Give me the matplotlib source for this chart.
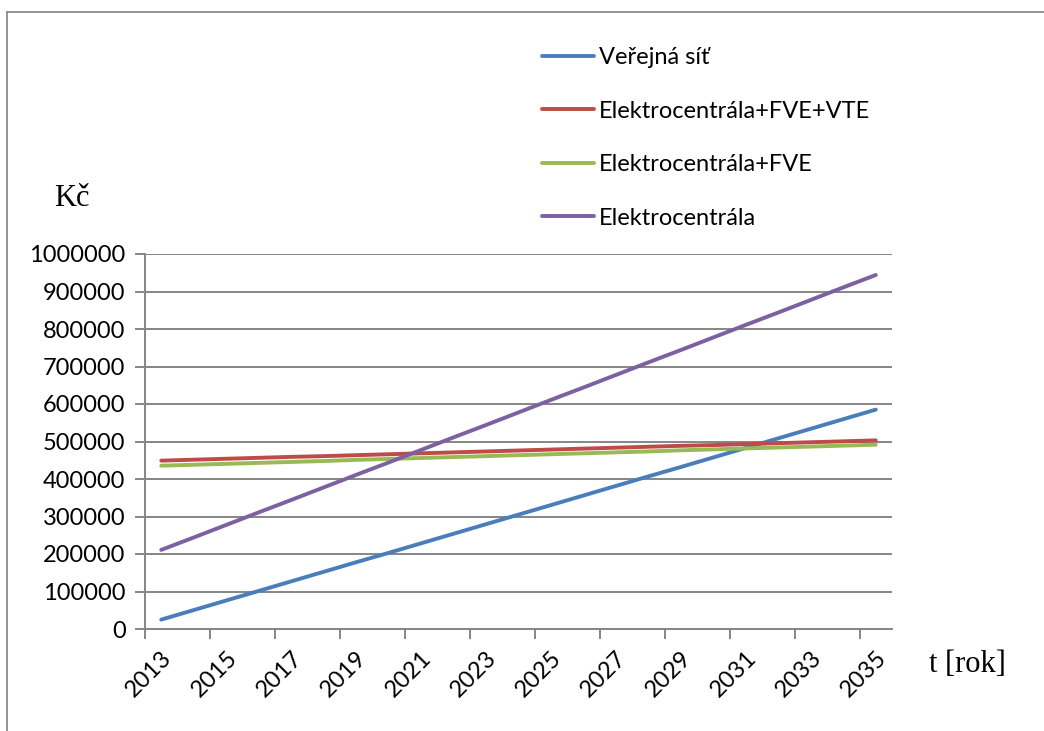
import numpy as np
import matplotlib
matplotlib.use('Agg')
import matplotlib.pyplot as plt
from matplotlib.lines import Line2D

# yearly costs [Kč] for each supply option
years = list(range(2013, 2036))
verejna_sit = [25000, 50500, 76000, 101500, 127000, 152500, 178000, 203000, 228500, 254000, 279500, 305000,
               330500, 356000, 381500, 407000, 432000, 457500, 483000, 508500, 534000, 559500, 585000]
ec_fve_vte = [449000, 451500, 454000, 456500, 459000, 461000, 463500, 466000, 468500, 471000, 473500, 476000,
              478500, 481000, 483500, 486000, 488500, 490500, 493000, 495500, 498000, 500500, 503000]
ec_fve = [435500, 438000, 440500, 443000, 445500, 448000, 451000, 453500, 456000, 458500, 461000, 463500,
          466000, 468500, 471000, 473500, 476500, 479000, 481500, 484000, 486500, 489000, 491500]
ec = [211000, 244000, 277500, 311000, 344000, 377500, 411000, 444000, 477500, 511000, 544000, 577500,
      611000, 644000, 677500, 711000, 744000, 777500, 811000, 844000, 877500, 911000, 944000]

series_names = ['Veřejná síť', 'Elektrocentrála+FVE+VTE', 'Elektrocentrála+FVE', 'Elektrocentrála']
series_vals = [verejna_sit, ec_fve_vte, ec_fve, ec]
colors = ['#4A7EBB', '#BE4B48', '#98B954', '#7D60A0']

grid_col = '#868686'
plt.rcParams['font.family'] = ['Lato', 'DejaVu Sans']

fig = plt.figure(figsize=(10.44, 7.31), dpi=100)
ax = fig.add_axes([145 / 1044, 1 - 629 / 731, 747 / 1044, 375 / 731])

x = np.arange(len(years))
for name, vals, c in zip(series_names, series_vals, colors):
    ax.plot(x, vals, color=c, lw=2.8, label=name, solid_capstyle='round')

ax.set_xlim(-0.5, len(years) - 0.5)
ax.set_ylim(0, 1000000)
ax.set_yticks(np.arange(0, 1000001, 100000))
ax.set_yticklabels([str(v) for v in range(0, 1000001, 100000)], fontsize=17)
ax.yaxis.grid(True, color=grid_col, lw=1.4)
ax.set_axisbelow(True)

# tick marks between categories, labels on every second year
ax.set_xticks(np.arange(-0.5, len(years) - 0.5, 2))
ax.set_xticklabels([])
ax.set_xticks(x[::2], minor=True)
ax.set_xticklabels([str(y) for y in years[::2]], minor=True, fontsize=17,
                   rotation=45, ha='right', va='top', rotation_mode='anchor')
ax.tick_params(axis='x', which='major', length=7, width=1.4, color=grid_col, direction='out')
ax.tick_params(axis='x', which='minor', length=0, pad=13)
ax.tick_params(axis='y', length=7, width=1.4, color=grid_col, pad=7)

for s in ['top', 'right']:
    ax.spines[s].set_visible(False)
for s in ['left', 'bottom']:
    ax.spines[s].set_color(grid_col)
    ax.spines[s].set_linewidth(1.4)

ax.legend(loc='upper left', bbox_to_anchor=(542 / 1044, 1 - 47 / 731), bbox_transform=fig.transFigure,
          frameon=False, fontsize=17, handlelength=2.2, handletextpad=0.2, labelspacing=1.38,
          borderpad=0, borderaxespad=0)

fig.text(72 / 1044, 1 - 198 / 731, 'Kč', family='Liberation Serif', fontsize=22, ha='center', va='center')
fig.text(967 / 1044, 1 - 665 / 731, 't [rok]', family='Liberation Serif', fontsize=22, ha='center', va='center')

# outer chart frame (top and left edge)
fig.add_artist(Line2D([7 / 1044, 1], [1 - 11.5 / 731, 1 - 11.5 / 731], transform=fig.transFigure,
                      color='#8c8c8c', lw=1.3))
fig.add_artist(Line2D([7 / 1044, 7 / 1044], [0, 1 - 11.5 / 731], transform=fig.transFigure,
                      color='#8c8c8c', lw=1.3))

fig.savefig('out.png', dpi=100)
